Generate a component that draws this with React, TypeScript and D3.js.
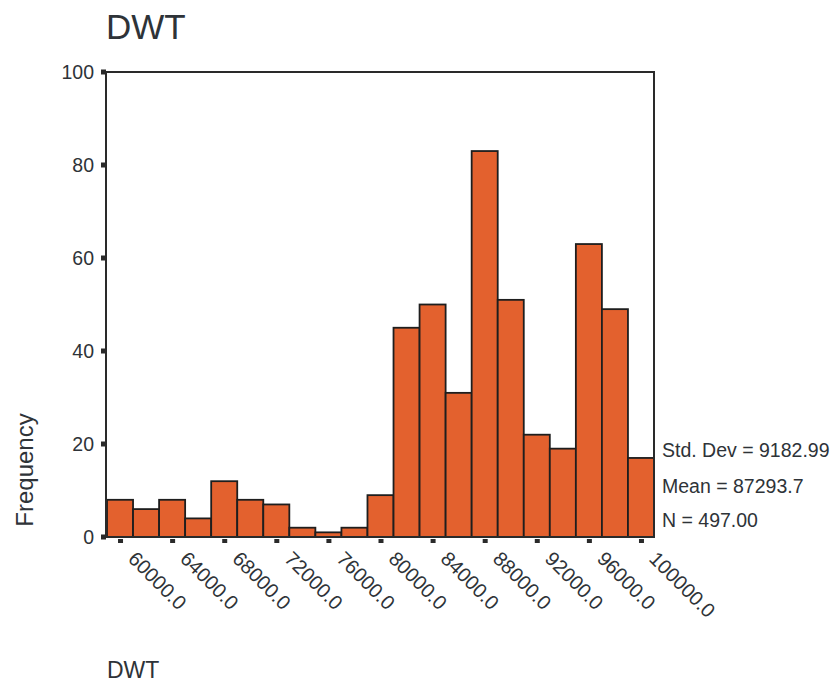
import React from "react";
import * as d3 from "d3";

const binCenters = [60000, 62000, 64000, 66000, 68000, 70000, 72000, 74000, 76000, 78000, 80000, 82000, 84000, 86000, 88000, 90000, 92000, 94000, 96000, 98000, 100000];
const frequencies = [8, 6, 8, 4, 12, 8, 7, 2, 1, 2, 9, 45, 50, 31, 83, 51, 22, 19, 63, 49, 17];
const xTicks = [60000, 64000, 68000, 72000, 76000, 80000, 84000, 88000, 92000, 96000, 100000];
const yTicks = [0, 20, 40, 60, 80, 100];
const statsLines = ["Std. Dev = 9182.99", "Mean = 87293.7", "N = 497.00"];
const binWidth = 2000;

const W = 840;
const H = 683;
const left = 106;
const right = 654;
const top = 72;
const bottom = 537;

export default function App() {
  const x = d3.scaleLinear().domain([59000, 101000]).range([107, right]);
  const y = d3.scaleLinear().domain([0, 100]).range([bottom, top]);
  const font = "'Liberation Sans', Arial, Helvetica, sans-serif";
  const textColor = "#2e3338";
  const lineColor = "#2a2a2a";

  return (
    <svg width={W} height={H} style={{ position: "absolute", left: 0, top: 0, background: "#fff" }}>
      <text x={106} y={39} fontFamily={font} fontSize={35} fill={textColor}>DWT</text>

      {binCenters.map((c, i) => (
        <rect
          key={i}
          x={x(c - binWidth / 2)}
          y={y(frequencies[i])}
          width={x(c + binWidth / 2) - x(c - binWidth / 2)}
          height={y(0) - y(frequencies[i])}
          fill="#E3612E"
          stroke="#1e1e1e"
          strokeWidth={1.8}
        />
      ))}

      <rect x={left} y={top} width={right - left} height={bottom - top} fill="none" stroke={lineColor} strokeWidth={2} />

      {yTicks.map((t) => (
        <g key={t}>
          <rect x={101} y={y(t) - 2.5} width={5} height={5} fill={lineColor} />
          <text x={94} y={y(t) + 7} textAnchor="end" fontFamily={font} fontSize={19.5} fill={textColor}>{t}</text>
        </g>
      ))}

      {xTicks.map((t) => (
        <g key={t}>
          <rect x={x(t) - 2} y={539} width={5} height={4} fill={lineColor} />
          <text
            transform={`translate(${x(t) + 7},${560}) rotate(45)`}
            fontFamily={font}
            fontSize={20}
            fill={textColor}
          >
            {d3.format(".1f")(t)}
          </text>
        </g>
      ))}

      <text
        transform={`translate(33,${470}) rotate(-90)`}
        textAnchor="middle"
        fontFamily={font}
        fontSize={24}
        fill={textColor}
      >
        Frequency
      </text>

      {statsLines.map((s, i) => (
        <text key={i} x={662} y={[457, 493, 527][i]} fontFamily={font} fontSize={19.5} fill={textColor}>{s}</text>
      ))}

      <text x={107} y={678} fontFamily={font} fontSize={23} fill={textColor}>DWT</text>
    </svg>
  );
}
